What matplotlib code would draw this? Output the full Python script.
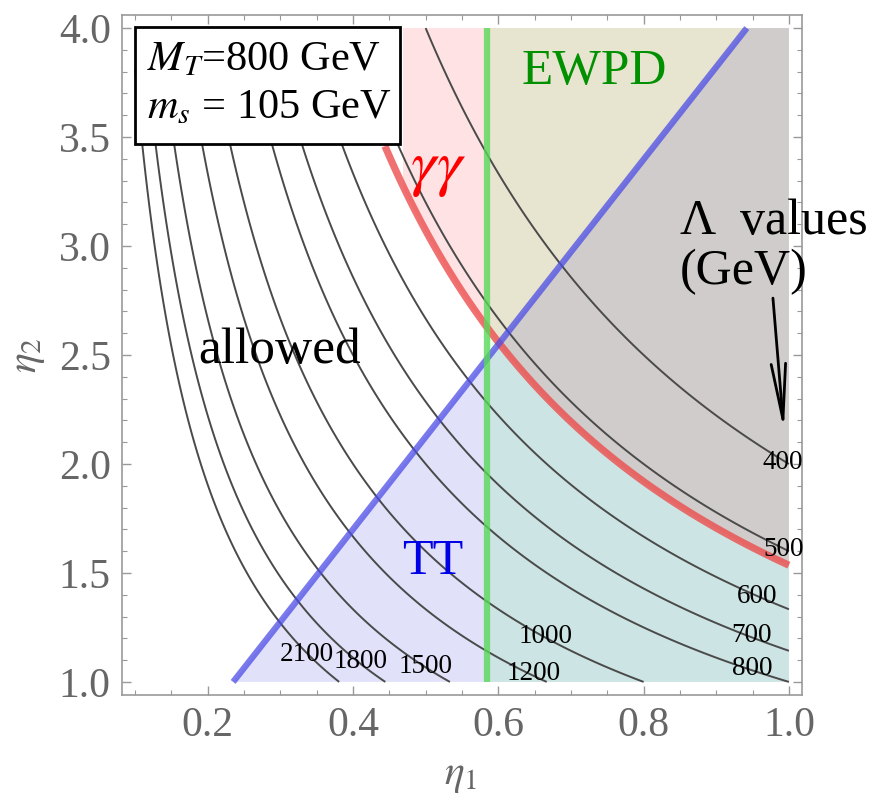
import numpy as np
import matplotlib
matplotlib.use("Agg")
import matplotlib.pyplot as plt
from matplotlib.patches import Rectangle
from matplotlib.ticker import MultipleLocator, FormatStrFormatter

plt.rcParams['font.family'] = ['Liberation Serif', 'DejaVu Serif']
plt.rcParams['mathtext.fontset'] = 'stix'

# physics inputs
M_T = 800.0   # GeV
m_s = 105.0   # GeV

# contour levels of Lambda = M_T / (eta1 * eta2), GeV
lambda_levels = [400, 500, 600, 700, 800, 1000, 1200, 1500, 1800, 2100]
label_eta1 = [0.992, 0.993, 0.956, 0.949, 0.949, 0.665, 0.649, 0.500, 0.411, 0.337]
label_eta2 = [2.009, 1.606, 1.394, 1.211, 1.060, 1.207, 1.037, 1.073, 1.092, 1.124]

# diphoton bound: Lambda below this is excluded
gg_lambda = 521.0
gg_line_from = 0.444
gg_fill_from = 0.47

# TT bound (excluded to the right)
tt_eta1 = [0.235, 0.942]
tt_eta2 = [1.0, 4.0]

# electroweak precision bound (excluded to the right)
ewpd_eta1 = 0.585

eta1_lim = (0.1, 1.0)
eta2_lim = (1.0, 4.0)


def lam_grid(e1_lo, n=600):
    e1 = np.linspace(e1_lo, eta1_lim[1], n)
    e2 = np.linspace(eta2_lim[0], eta2_lim[1], n)
    E1, E2 = np.meshgrid(e1, e2)
    return E1, E2, M_T / (E1 * E2)


fig = plt.figure(figsize=(8.82, 8.07), dpi=100)
ax = fig.add_axes([0.1383, 0.1388, 0.9093 - 0.1383, 0.9814 - 0.1388])
pad1 = 0.02 * (eta1_lim[1] - eta1_lim[0])
pad2 = 0.02 * (eta2_lim[1] - eta2_lim[0])
ax.set_xlim(eta1_lim[0] - pad1, eta1_lim[1] + pad1)
ax.set_ylim(eta2_lim[0] - pad2, eta2_lim[1] + pad2)

# shaded exclusion regions, layered with transparency
ax.fill([tt_eta1[0], tt_eta1[1], eta1_lim[1], eta1_lim[1]],
        [tt_eta2[0], tt_eta2[1], eta2_lim[1], eta2_lim[0]],
        color=(0.1, 0.1, 0.85), alpha=0.13, lw=0, zorder=1)
E1, E2, lam = lam_grid(gg_fill_from)
ax.contourf(E1, E2, lam, levels=[0, gg_lambda], colors=[(1.0, 0.0, 0.1)],
            alpha=0.115, zorder=1)
ax.fill([ewpd_eta1, eta1_lim[1], eta1_lim[1], ewpd_eta1],
        [eta2_lim[0], eta2_lim[0], eta2_lim[1], eta2_lim[1]],
        color=(0.1, 1.0, 0.1), alpha=0.1, lw=0, zorder=1)

# Lambda contours
E1, E2, lam = lam_grid(eta1_lim[0])
ax.contour(E1, E2, lam, levels=lambda_levels, colors='#4a4a4a',
           linewidths=1.4, zorder=2)
for lev, lx, ly in zip(lambda_levels, label_eta1, label_eta2):
    ax.text(lx, ly, str(lev), fontsize=19.5, ha='center', va='center',
            color='black', zorder=4)

# bound lines
E1, E2, lam = lam_grid(gg_line_from)
ax.contour(E1, E2, lam, levels=[gg_lambda], colors=[(0.93, 0.3, 0.3)],
           linewidths=5.2, alpha=0.8, zorder=3)
ax.plot(tt_eta1, tt_eta2, color=(0.3, 0.3, 0.9), lw=4.5, alpha=0.75,
        solid_capstyle='butt', zorder=3)
ax.plot([ewpd_eta1, ewpd_eta1], eta2_lim, color=(0.35, 0.85, 0.35), lw=4.5,
        alpha=0.8, solid_capstyle='butt', zorder=3)

# region labels
ax.text(0.732, 3.80, 'EWPD', color='#009000', fontsize=37,
        ha='center', va='center', zorder=4)
ax.text(0.517, 3.35, r'$\gamma\gamma$', color='red', fontsize=46,
        ha='center', va='center', zorder=4)
ax.text(0.2994, 2.52, 'allowed', color='black', fontsize=37,
        ha='center', va='center', zorder=4)
ax.text(0.509, 1.55, 'TT', color=(0, 0, 0.9), fontsize=36,
        ha='center', va='center', zorder=4)
ax.text(0.85, 3.11, '\u039b  values', color='black', fontsize=36,
        ha='left', va='center', zorder=4)
ax.text(0.85, 2.88, '(GeV)', color='black', fontsize=36,
        ha='left', va='center', zorder=4)
ax.annotate('', xy=(0.993, 2.156), xytext=(0.978, 2.761),
            arrowprops=dict(arrowstyle='->, head_length=1.0, head_width=0.13',
                            color='black', lw=2, mutation_scale=40,
                            shrinkA=0, shrinkB=0), zorder=4)

# parameter box
ax.add_patch(Rectangle((0.1, 3.47), 0.365, 0.535, facecolor='white',
                       edgecolor='black', lw=2, zorder=5))
ax.text(0.1163, 3.853, r'$M_T$=%d GeV' % M_T, fontsize=30.5,
        ha='left', va='center', zorder=6)
ax.text(0.1163, 3.633, r'$m_s$ = %d GeV' % m_s, fontsize=30.5,
        ha='left', va='center', zorder=6)

# frame styling
for sp in ax.spines.values():
    sp.set_color('#999999')
    sp.set_linewidth(1.2)
ax.xaxis.set_major_locator(MultipleLocator(0.2))
ax.xaxis.set_minor_locator(MultipleLocator(0.05))
ax.yaxis.set_major_locator(MultipleLocator(0.5))
ax.yaxis.set_minor_locator(MultipleLocator(0.1))
ax.xaxis.set_major_formatter(FormatStrFormatter('%.1f'))
ax.yaxis.set_major_formatter(FormatStrFormatter('%.1f'))
ax.tick_params(which='both', direction='in', top=True, right=True,
               color='#999999', labelcolor='#666666', labelsize=30)
ax.tick_params(which='major', length=6.5, width=1.0, pad=8)
ax.tick_params(which='minor', length=3.6, width=0.8)

fig.text(0.522, 1 - 776 / 807, r'$\eta_1$', fontsize=30, color='#666666',
         ha='center', va='center')
fig.text(0.032, 0.56, r'$\eta_2$', fontsize=30, color='#666666',
         ha='center', va='center', rotation=90)

fig.savefig('out.png', dpi=100)
